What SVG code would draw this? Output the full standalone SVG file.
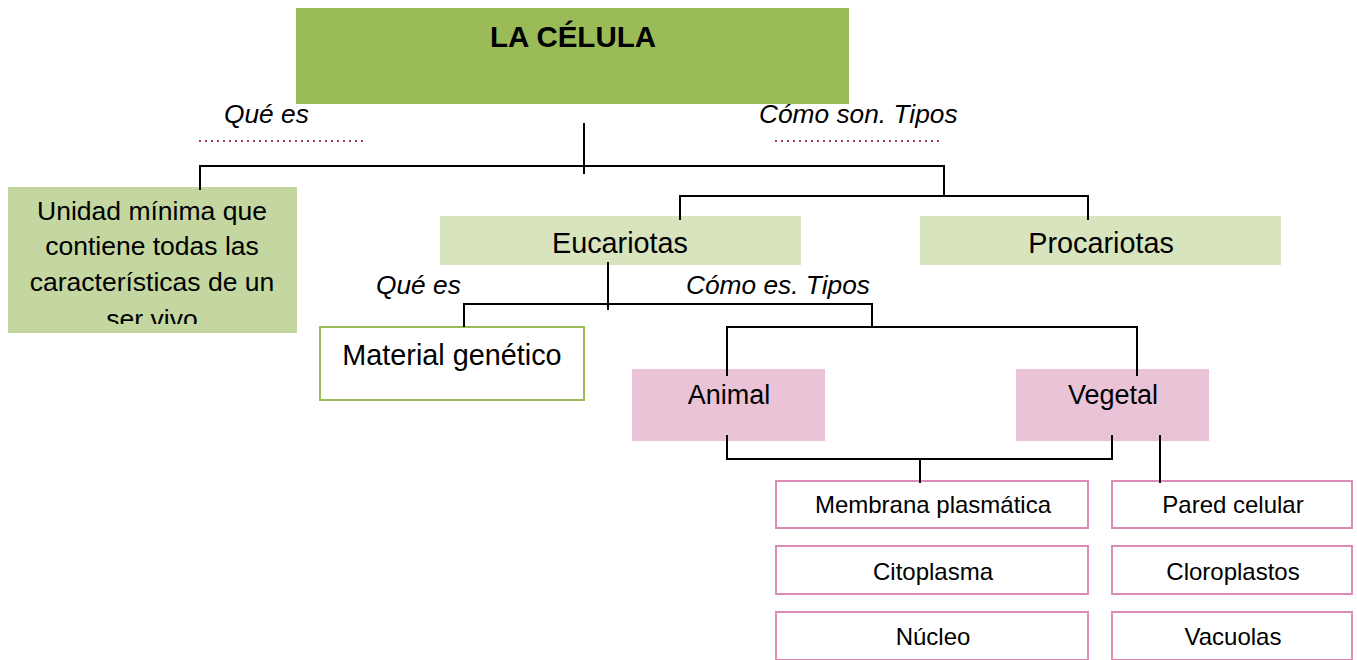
<svg xmlns="http://www.w3.org/2000/svg" width="1357" height="660" viewBox="0 0 1357 660">
<style>
text{font-family:"Liberation Sans",Arial,sans-serif;fill:#000;text-anchor:middle}
.t28{font-size:28.8px}
.t26{font-size:26.5px}
.t27{font-size:27px}
.t24{font-size:24px}
.lbl{font-size:26.3px;font-style:italic;text-anchor:start}
.pinkbox{fill:#fff;stroke:#DB8BB6;stroke-width:2}
.pinkfill{fill:#EBC3D7}
.lgreen{fill:#D8E4BE}
.conn{fill:none;stroke:#000;stroke-width:2}
.dots{fill:none;stroke:#A3386F;stroke-width:2;stroke-dasharray:2 4}
</style>
<defs>
<clipPath id="clipLeft"><rect x="8" y="187" width="289" height="137"/></clipPath>
</defs>
<rect width="1357" height="660" fill="#fff"/>

<g id="title">
<rect x="296" y="8" width="553" height="96" fill="#9BBB59"/>
<text x="573" y="47" style="font-size:29.5px;font-weight:bold">LA CÉLULA</text>
</g>

<g id="label-que-es-1">
<text class="lbl" x="224" y="123">Qué es</text>
<line class="dots" x1="199" y1="141" x2="364" y2="141"/>
</g>
<g id="label-como-son">
<text class="lbl" x="759" y="123">Cómo son. Tipos</text>
<line class="dots" x1="775" y1="141" x2="940" y2="141"/>
</g>

<g id="definicion">
<rect x="8" y="187" width="289" height="146" fill="#C4D7A0"/>
<g clip-path="url(#clipLeft)" class="t26">
<text x="152" y="220">Unidad mínima que</text>
<text x="152" y="255">contiene todas las</text>
<text x="152" y="291">características de un</text>
<text x="152" y="328">ser vivo</text>
</g>
</g>

<g id="eucariotas">
<rect class="lgreen" x="440" y="216" width="361" height="49"/>
<text class="t28" x="620" y="253">Eucariotas</text>
</g>
<g id="procariotas">
<rect class="lgreen" x="920" y="216" width="361" height="49"/>
<text class="t28" x="1101" y="253">Procariotas</text>
</g>

<g id="label-que-es-2">
<text class="lbl" x="376" y="294">Qué es</text>
</g>
<g id="label-como-es">
<text class="lbl" x="686" y="294">Cómo es. Tipos</text>
</g>

<g id="material">
<rect x="320" y="327" width="264" height="73" fill="#fff" stroke="#9BBB59" stroke-width="2"/>
<text class="t28" x="452" y="365">Material genético</text>
</g>

<g id="animal">
<rect class="pinkfill" x="632" y="369" width="193" height="72"/>
<text class="t27" x="729" y="404">Animal</text>
</g>
<g id="vegetal">
<rect class="pinkfill" x="1016" y="369" width="193" height="72"/>
<text class="t27" x="1113" y="404">Vegetal</text>
</g>

<g id="membrana">
<rect class="pinkbox" x="776" y="481" width="312" height="47"/>
<text class="t24" x="933" y="513">Membrana plasmática</text>
</g>
<g id="citoplasma">
<rect class="pinkbox" x="776" y="546" width="312" height="48"/>
<text class="t24" x="933" y="580">Citoplasma</text>
</g>
<g id="nucleo">
<rect class="pinkbox" x="776" y="612" width="312" height="48"/>
<text class="t24" x="933" y="645">Núcleo</text>
</g>
<g id="pared">
<rect class="pinkbox" x="1112" y="481" width="240" height="47"/>
<text class="t24" x="1233" y="513">Pared celular</text>
</g>
<g id="cloroplastos">
<rect class="pinkbox" x="1112" y="546" width="240" height="48"/>
<text class="t24" x="1233" y="580">Cloroplastos</text>
</g>
<g id="vacuolas">
<rect class="pinkbox" x="1112" y="612" width="240" height="48"/>
<text class="t24" x="1233" y="645">Vacuolas</text>
</g>

<g id="connectors" class="conn">
<path class="conn" d="M584,123 V174"/>
<path class="conn" d="M200,190 V166 H944 V196"/>
<path class="conn" d="M680,220 V196 H1088 V220"/>
<path class="conn" d="M608,262 V310"/>
<path class="conn" d="M464,327 V304 H872 V327"/>
<path class="conn" d="M727,376 V327 H1137 V376"/>
<path class="conn" d="M727,435 V459 H1112 V435"/>
<path class="conn" d="M920,459 V483"/>
<path class="conn" d="M1160,435 V483"/>
</g>
</svg>
